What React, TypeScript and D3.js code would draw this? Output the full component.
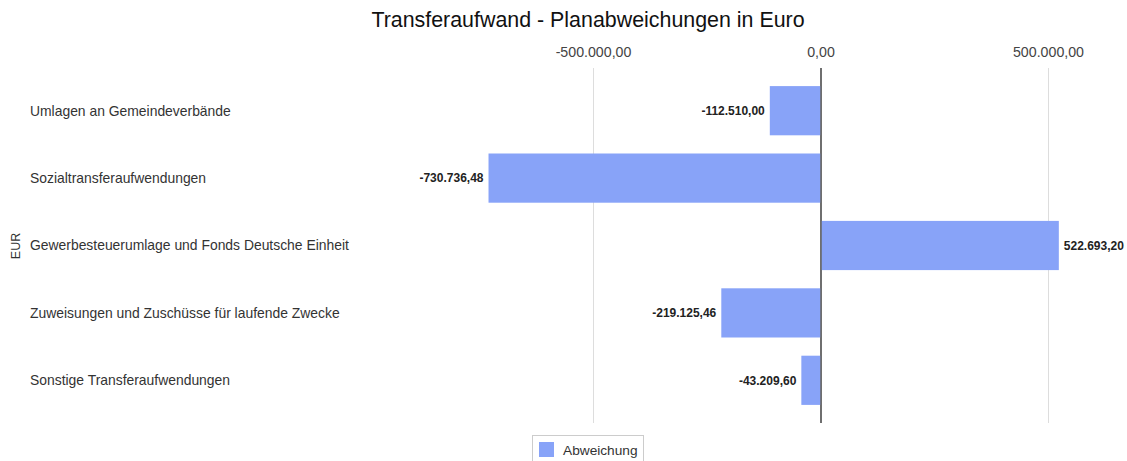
import React from 'react';
import * as d3 from 'd3';

const categories = [
  'Umlagen an Gemeindeverbände',
  'Sozialtransferaufwendungen',
  'Gewerbesteuerumlage und Fonds Deutsche Einheit',
  'Zuweisungen und Zuschüsse für laufende Zwecke',
  'Sonstige Transferaufwendungen',
];
const abweichung = [-112510.0, -730736.48, 522693.2, -219125.46, -43209.6];
const tickValues = [-500000, 0, 500000];

const W = 1127;
const H = 461;
const FONT = '"Liberation Sans", Arial, sans-serif';

const fmt = (v: number) =>
  v.toLocaleString('de-DE', { minimumFractionDigits: 2, maximumFractionDigits: 2 });

export default function App() {
  const x = d3.scaleLinear().domain([-500000, 500000]).range([593.5, 1048.5]);
  const y = d3.scaleBand<string>().domain(categories).range([77, 414]).paddingInner(0.27).paddingOuter(0.135);
  const gridTop = 68;
  const gridBottom = 423;

  return (
    <svg width={W} height={H} style={{ position: 'absolute', left: 0, top: 0, background: '#fff' }}>
      <text x={588} y={27} textAnchor="middle" fontFamily={FONT} fontSize={21.4} fill="#111">
        Transferaufwand - Planabweichungen in Euro
      </text>

      {tickValues.map(t => (
        <g key={t}>
          <line
            x1={x(t)} x2={x(t)} y1={gridTop} y2={gridBottom}
            stroke={t === 0 ? '#666' : '#ddd'} strokeWidth={t === 0 ? 1.5 : 1}
          />
          <text x={x(t)} y={57} textAnchor="middle" fontFamily={FONT} fontSize={14.2} fill="#444">
            {fmt(t)}
          </text>
        </g>
      ))}

      {categories.map((c, i) => {
        const v = abweichung[i];
        const y0 = y(c)!;
        const bw = y.bandwidth();
        const x0 = Math.min(x(0), x(v));
        const w = Math.abs(x(v) - x(0));
        return (
          <g key={c}>
            <text x={30} y={y0 + bw / 2} dy="0.35em" fontFamily={FONT} fontSize={13.9} fill="#333">
              {c}
            </text>
            <rect x={x0} y={y0} width={w} height={bw} fill="#88a3f8" />
            <text
              x={v < 0 ? x(v) - 5 : x(v) + 5}
              y={y0 + bw / 2}
              dy="0.35em"
              textAnchor={v < 0 ? 'end' : 'start'}
              fontFamily={FONT}
              fontSize={12}
              fontWeight="bold"
              fill="#222"
            >
              {fmt(v)}
            </text>
          </g>
        );
      })}
      <line x1={x(0)} x2={x(0)} y1={gridTop} y2={gridBottom} stroke="#666" strokeWidth={1.5} />

      <text
        transform="translate(20,246) rotate(-90)"
        textAnchor="middle"
        fontFamily={FONT}
        fontSize={12.5}
        fill="#333"
      >
        EUR
      </text>

      <g>
        <rect x={532.5} y={435.5} width={111} height={30} fill="#fff" stroke="#ccc" />
        <rect x={539} y={442} width={15} height={15} fill="#88a3f8" />
        <text x={563} y={450} dy="0.35em" fontFamily={FONT} fontSize={13.7} fill="#333">
          Abweichung
        </text>
      </g>
    </svg>
  );
}
